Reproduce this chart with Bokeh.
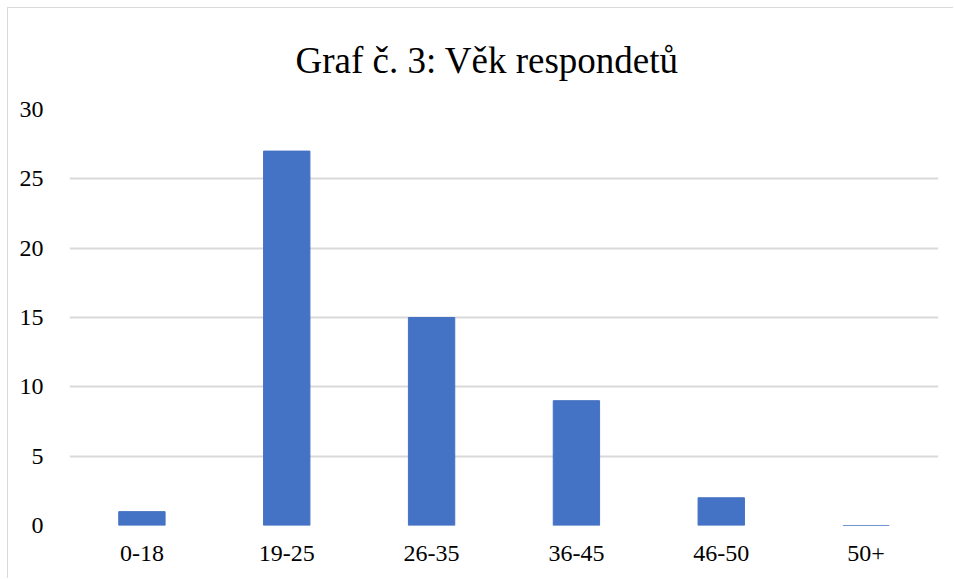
from bokeh.plotting import figure
from bokeh.embed import file_html
from bokeh.resources import INLINE
from bokeh.models import ColumnDataSource, FixedTicker, InlineStyleSheet

categories = ["0-18", "19-25", "26-35", "36-45", "46-50", "50+"]
counts = [1, 27, 15, 9, 2, 0]
y_ticks = [0, 5, 10, 15, 20, 25, 30]

src = ColumnDataSource(dict(cat=categories, val=counts))

p = figure(x_range=categories, y_range=(0, 30), width=946, height=571,
           output_backend="svg", toolbar_location=None,
           min_border_left=61, min_border_right=16, min_border_top=96, min_border_bottom=54,
           styles={"margin-left": "8px", "margin-top": "8px"})
p.stylesheets = [InlineStyleSheet(css=":host { box-shadow: -1px -1px 0 0 #d9d9d9; }")]
p.title.text = "Graf č. 3: Věk respondetů"
p.title.text_font = "Liberation Serif"
p.title.text_font_size = "37px"
p.title.text_font_style = "normal"
p.title.text_line_height = 1.0
p.title.align = "left"
p.title.text_color = "#000000"
p.title.offset = 226
p.title.standoff = 58

p.vbar(x="cat", top="val", width=0.32, source=src, fill_color="#4472C4", line_color="#4472C4")

p.outline_line_color = None
p.xgrid.grid_line_color = None
p.yaxis.ticker = FixedTicker(ticks=y_ticks)
p.ygrid.grid_line_color = "#d9d9d9"
p.ygrid.grid_line_width = 2
for ax in (p.xaxis[0], p.yaxis[0]):
    ax.axis_line_color = None
    ax.major_tick_line_color = None
    ax.minor_tick_line_color = None
    ax.major_label_text_font = "Liberation Serif"
    ax.major_label_text_font_style = "normal"
    ax.major_label_text_font_size = "24px"
    ax.major_label_text_color = "#000000"
p.yaxis.major_label_standoff = 20
p.xaxis.major_label_standoff = 14

open("out.html", "w").write(file_html(p, INLINE))
